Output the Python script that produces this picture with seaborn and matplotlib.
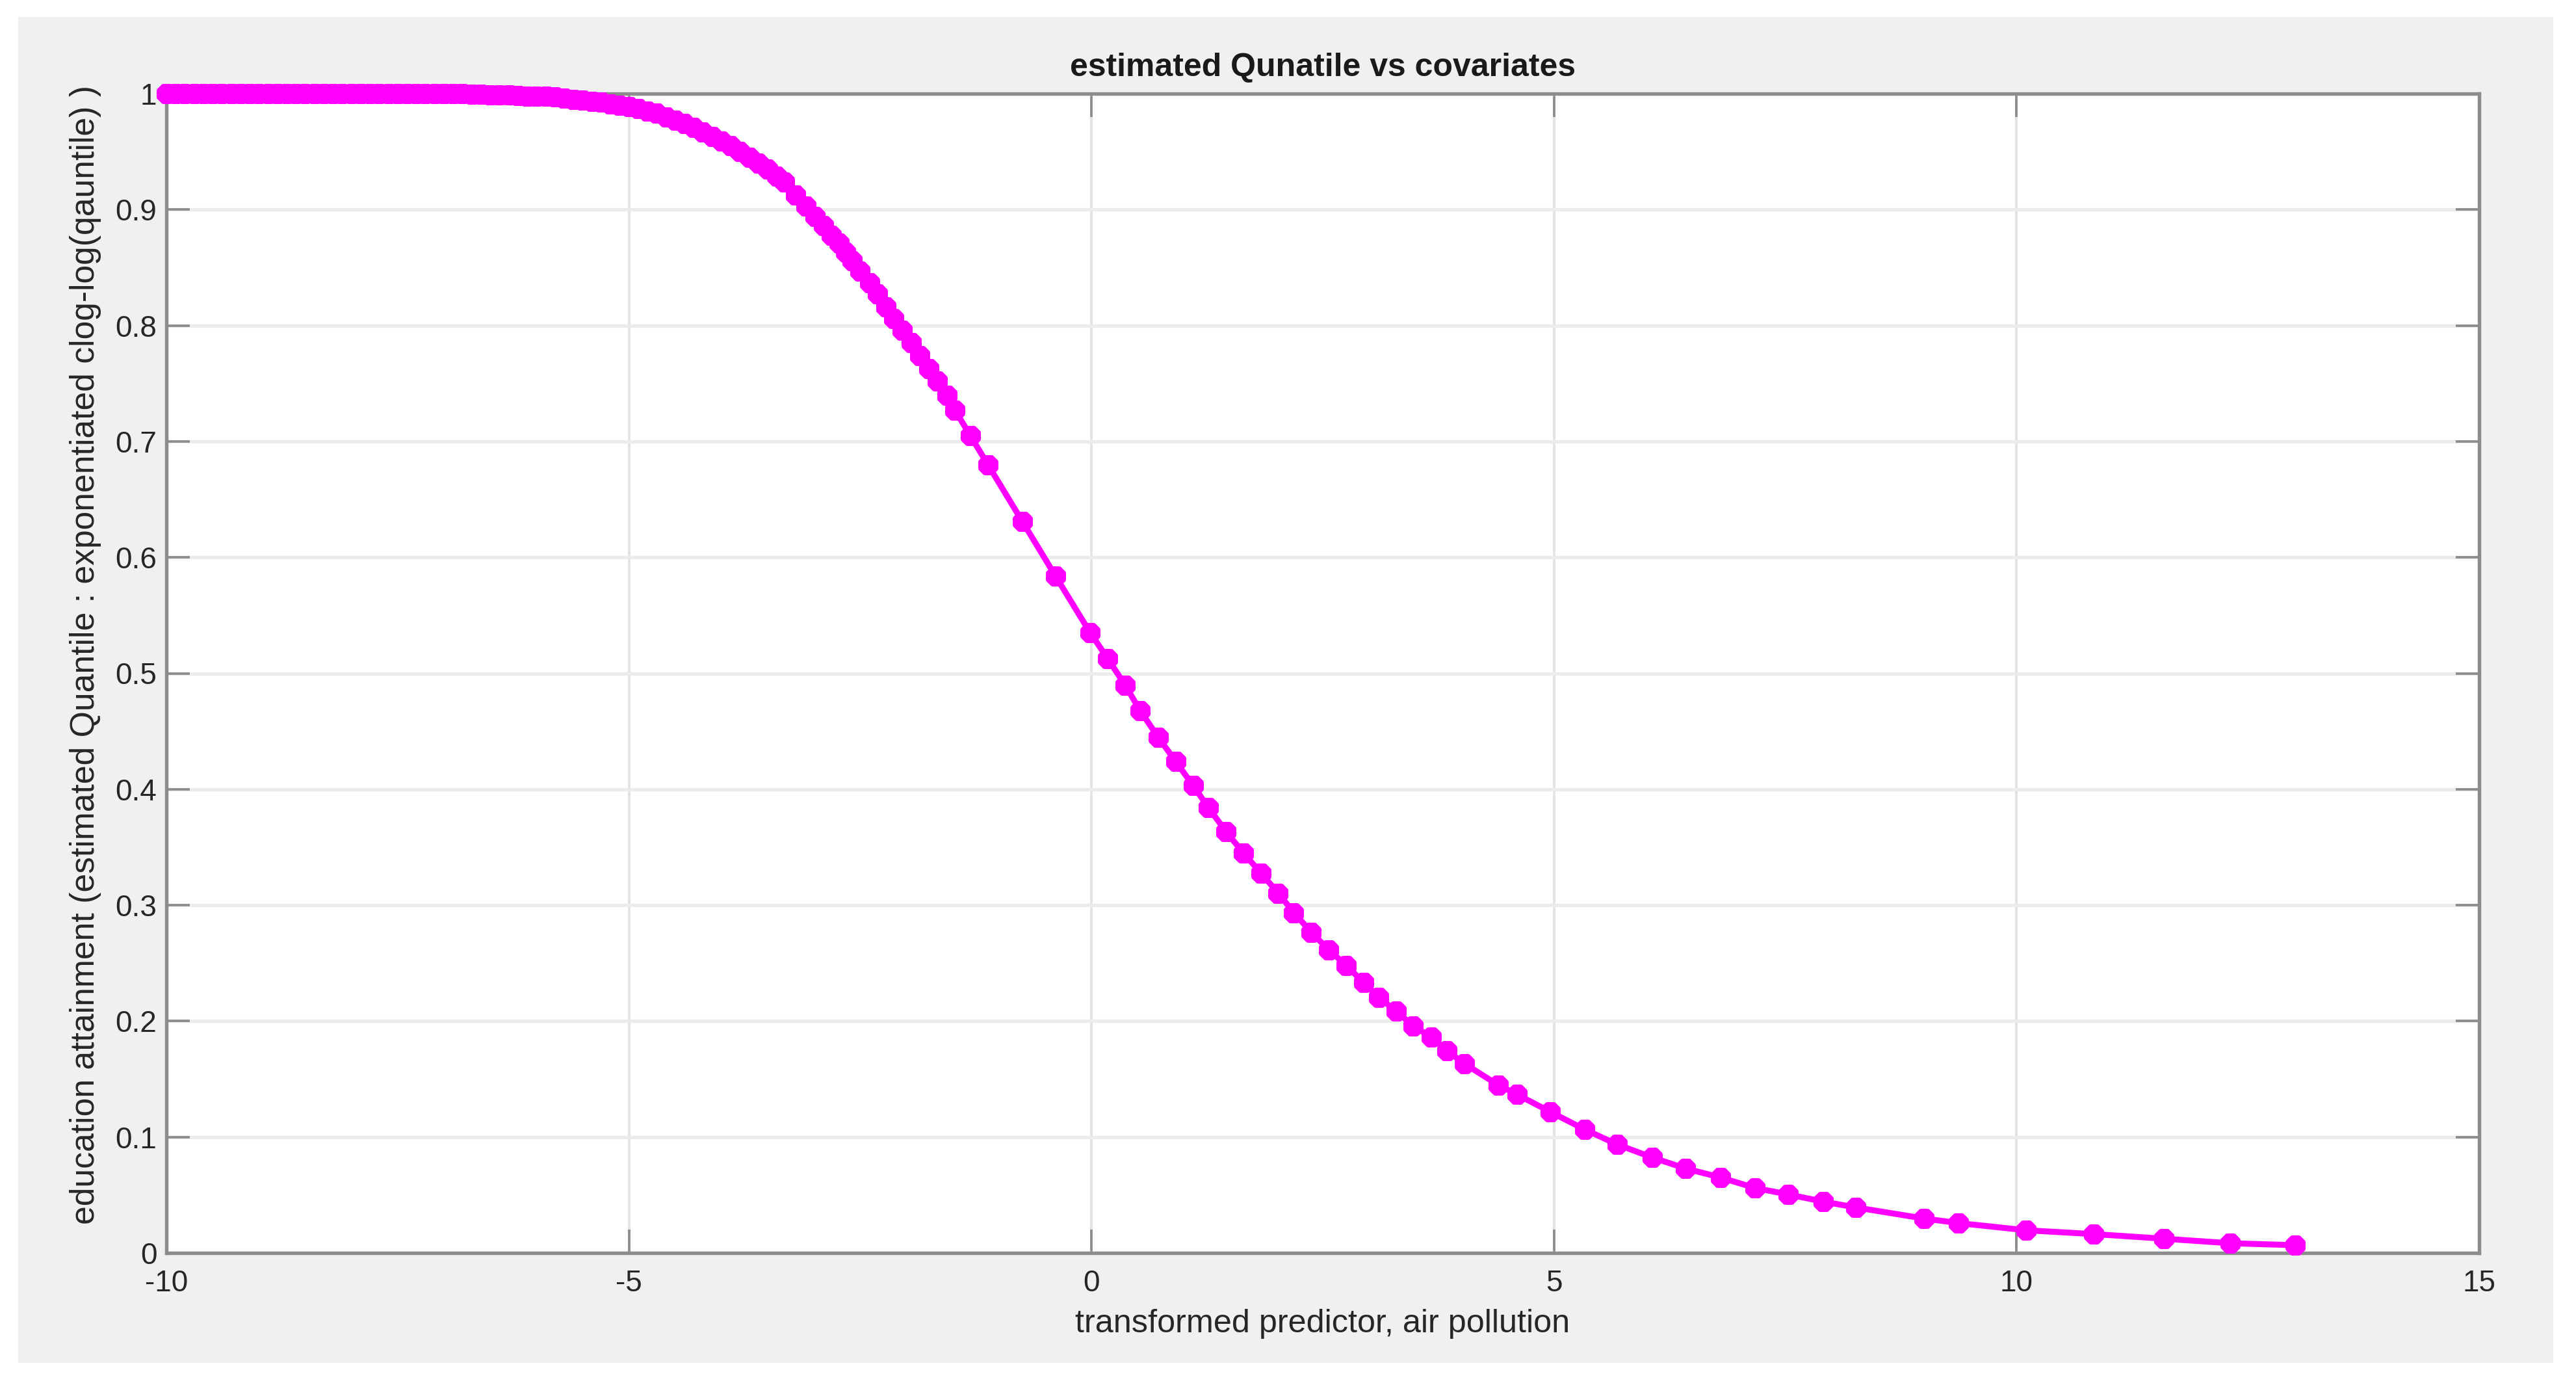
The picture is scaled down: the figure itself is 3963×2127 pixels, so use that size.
import matplotlib
matplotlib.use('Agg')
import matplotlib.pyplot as plt
from matplotlib.patches import Rectangle
import seaborn as sns

# values (x = transformed predictor, y = estimated quantile)
x_vals = [
    -10.0, -9.9, -9.8, -9.7, -9.6, -9.5, -9.4, -9.3, -9.2, -9.1,
    -9.0, -8.9, -8.8, -8.7, -8.6, -8.5, -8.4, -8.3, -8.2, -8.1,
    -8.0, -7.9, -7.8, -7.7, -7.6, -7.5, -7.4, -7.3, -7.2, -7.1,
    -7.0, -6.9, -6.8, -6.7, -6.6, -6.5, -6.4, -6.3, -6.2, -6.1,
    -6.0, -5.9, -5.8, -5.7, -5.6, -5.5, -5.4, -5.3, -5.2, -5.1,
    -5.0, -4.9, -4.8, -4.7, -4.6, -4.5, -4.4, -4.3, -4.2, -4.1,
    -4.0, -3.9, -3.8, -3.7, -3.6, -3.5, -3.4, -3.32, -3.2, -3.085,
    -2.99, -2.896, -2.81, -2.73, -2.66, -2.59, -2.5, -2.4, -2.31, -2.22,
    -2.137, -2.045, -1.95, -1.855, -1.76, -1.67, -1.56, -1.476, -1.31, -1.12,
    -0.747, -0.39, -0.014, 0.176, 0.365, 0.527, 0.72, 0.91, 1.1, 1.265,
    1.455, 1.642, 1.834, 2.018, 2.187, 2.375, 2.565, 2.753, 2.94, 3.107,
    3.296, 3.48, 3.672, 3.84, 4.03, 4.4, 4.6, 4.96, 5.33, 5.68,
    6.06, 6.42, 6.8, 7.17, 7.53, 7.91, 8.26, 9.0, 9.37, 10.1,
    10.83, 11.59, 12.31, 13.01,
]
y_vals = [
    1.0, 1.0, 1.0, 1.0, 1.0, 1.0, 1.0, 1.0, 1.0, 1.0,
    1.0, 1.0, 1.0, 1.0, 1.0, 1.0, 1.0, 1.0, 1.0, 1.0,
    1.0, 1.0, 1.0, 1.0, 1.0, 1.0, 1.0, 1.0, 1.0, 1.0,
    1.0, 1.0, 1.0, 0.9995, 0.9995, 0.999, 0.999, 0.999, 0.9985, 0.998,
    0.998, 0.9975, 0.997, 0.996, 0.995, 0.9945, 0.9935, 0.9925, 0.991, 0.990,
    0.989, 0.987, 0.985, 0.983, 0.980, 0.977, 0.974, 0.971, 0.967, 0.963,
    0.959, 0.955, 0.950, 0.945, 0.940, 0.935, 0.929, 0.924, 0.9125, 0.903,
    0.894, 0.886, 0.878, 0.871, 0.863, 0.856, 0.847, 0.837, 0.827, 0.816,
    0.806, 0.796, 0.785, 0.774, 0.763, 0.752, 0.740, 0.727, 0.705, 0.680,
    0.631, 0.584, 0.535, 0.5126, 0.4896, 0.4677, 0.445, 0.424, 0.403, 0.384,
    0.3634, 0.345, 0.3275, 0.3104, 0.2936, 0.2767, 0.2614, 0.2481, 0.2333, 0.2204,
    0.2084, 0.1957, 0.1862, 0.1747, 0.1633, 0.1447, 0.1367, 0.1217, 0.1066, 0.0937,
    0.0824, 0.0729, 0.0651, 0.0561, 0.0505, 0.0443, 0.0393, 0.0297, 0.0258, 0.0196,
    0.0163, 0.0123, 0.0084, 0.0067,
]

x_ticks = [-10, -5, 0, 5, 10, 15]
x_tick_labels = ['-10', '-5', '0', '5', '10', '15']
y_ticks = [0, 0.1, 0.2, 0.3, 0.4, 0.5, 0.6, 0.7, 0.8, 0.9, 1.0]
y_tick_labels = ['0', '0.1', '0.2', '0.3', '0.4', '0.5', '0.6', '0.7', '0.8', '0.9', '1']

title = 'estimated Qunatile vs covariates'
x_label = 'transformed predictor, air pollution'
y_label = 'education attainment (estimated Quantile : exponentiated clog-log(qauntile) )'

sns.set_theme(style='white')
plt.rcParams['font.family'] = ['Liberation Sans', 'DejaVu Sans']

W, H = 3963, 2127
fig = plt.figure(figsize=(W / 300, H / 300), dpi=300, facecolor='white')
# grey MATLAB-style figure panel
fig.patches.append(Rectangle((28 / W, 1 - 2096 / H), 3900 / W, 2070 / H,
                             transform=fig.transFigure, facecolor='#f0f0f0',
                             edgecolor='none', zorder=-10))

ax = fig.add_axes([256 / W, 1 - 1927 / H, (3814 - 256) / W, (1927 - 144) / H])
ax.set_facecolor('white')

sns.lineplot(x=x_vals, y=y_vals, ax=ax, color='#ff00ff', linewidth=2.2,
             marker=(8, 2, 0), markersize=7.4, markeredgecolor='#ff00ff',
             markeredgewidth=2.8, sort=False, estimator=None, clip_on=False,
             zorder=5)

ax.set_xlim(-10, 15)
ax.set_ylim(0, 1)
ax.set_xticks(x_ticks)
ax.set_xticklabels(x_tick_labels)
ax.set_yticks(y_ticks)
ax.set_yticklabels(y_tick_labels)

ax.xaxis.grid(True, color='#e2e2e2', linewidth=0.9)
ax.yaxis.grid(True, color='#ececec', linewidth=1.3)
ax.set_axisbelow(True)

for s in ax.spines.values():
    s.set_visible(True)
    s.set_color('#8c8c8c')
    s.set_linewidth(1.3)

ax.tick_params(axis='both', which='major', direction='in', length=8.6, width=0.9,
               color='#8c8c8c', labelsize=11, labelcolor='#262626',
               top=True, right=True, bottom=True, left=True)
ax.tick_params(axis='y', pad=3.5)
ax.tick_params(axis='x', pad=6)

ax.set_title(title, fontsize=12, fontweight='bold', color='#1a1a1a', pad=6.5)
ax.set_xlabel(x_label, fontsize=12.1, color='#262626', labelpad=4)
ax.set_ylabel(y_label, fontsize=12.4, color='#262626')
ax.yaxis.set_label_coords(-0.028, 0.516)

fig.savefig('out.png', dpi=300, facecolor='white')
